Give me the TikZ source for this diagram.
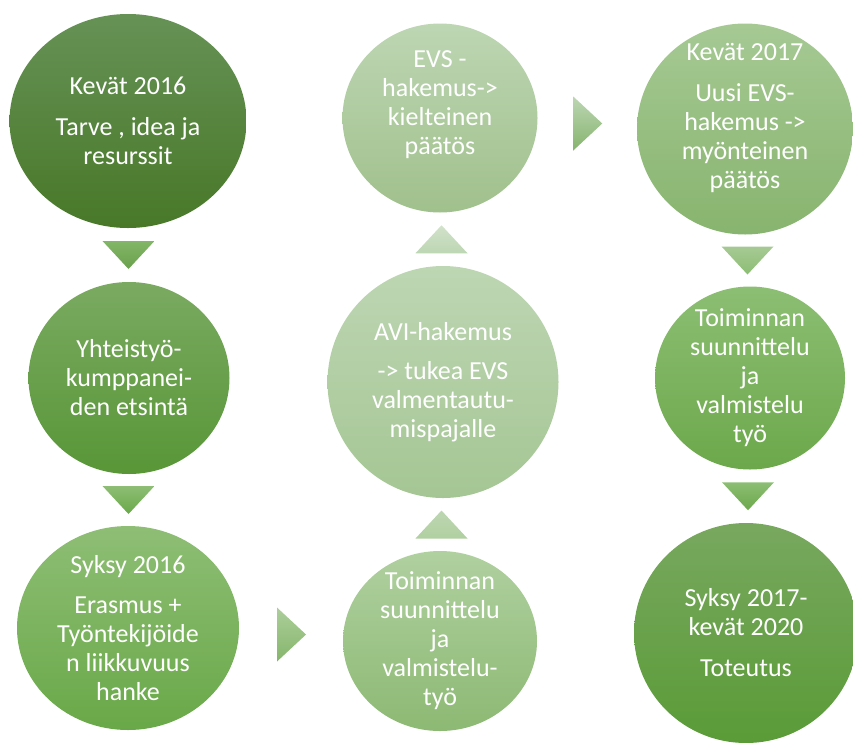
\documentclass[tikz,border=0pt]{standalone}
\usepackage{fontspec}
\setmainfont{Carlito}
\usetikzlibrary{shapes.geometric,calc}

\definecolor{gAtop}{RGB}{102,146,86}
\definecolor{gAbot}{RGB}{72,120,40}
\definecolor{gBtop}{RGB}{122,170,97}
\definecolor{gBbot}{RGB}{88,150,55}
\definecolor{gCtop}{RGB}{142,190,117}
\definecolor{gCbot}{RGB}{105,168,72}
\definecolor{gDtop}{RGB}{176,208,160}
\definecolor{gDbot}{RGB}{140,185,115}
\definecolor{gEtop}{RGB}{189,214,179}
\definecolor{gEbot}{RGB}{165,198,148}
\definecolor{gFtop}{RGB}{189,214,179}
\definecolor{gFbot}{RGB}{160,192,140}
\definecolor{gGtop}{RGB}{166,201,148}
\definecolor{gGbot}{RGB}{135,180,110}
\definecolor{gHtop}{RGB}{140,190,115}
\definecolor{gHbot}{RGB}{108,168,75}
\definecolor{gItop}{RGB}{120,168,95}
\definecolor{gIbot}{RGB}{90,155,55}

\tikzset{
  phase/.style={ellipse, draw=none, inner sep=0pt},
  phasetext/.style={align=center, text=white, inner sep=0pt, font=\fontsize{26}{29}\selectfont},
}

\begin{document}
\begin{tikzpicture}[x=1pt,y=-1pt]
  \useasboundingbox (0,0) rectangle (853,742);

  % left column
  \node[phase, minimum width=237pt, minimum height=214pt, top color=gAtop, bottom color=gAbot] (kevat16) at (128,121) {};
  \node[phasetext] (kevat16t) at (kevat16) {Kevät 2016\\[12pt]Tarve , idea ja\\resurssit};
  \node[phase, minimum width=201pt, minimum height=192pt, top color=gBtop, bottom color=gBbot] (kumpp) at (129,378) {};
  \node[phasetext] (kumppt) at (kumpp) {Yhteistyö-\\kumppanei-\\den etsintä};
  \node[phase, minimum width=222pt, minimum height=204pt, top color=gCtop, bottom color=gCbot] (syksy16) at (128,628) {};
  \node[phasetext] (syksy16t) at (syksy16) {Syksy 2016\\[11pt]Erasmus +\\Työntekijöide\\n liikkuvuus\\hanke};

  % middle column
  \node[phase, minimum width=194pt, minimum height=180pt, top color=gDtop, bottom color=gDbot] (valm1) at (440,641) {};
  \node[phasetext] (valm1t) at (valm1) {Toiminnan\\suunnittelu\\ja\\valmistelu-\\työ};
  \node[phase, minimum width=231pt, minimum height=232pt, top color=gEtop, bottom color=gEbot] (avi) at (443,382) {};
  \node[phasetext] (avit) at (avi) {AVI-hakemus\\[10pt]-> tukea EVS\\valmentautu-\\mispajalle};
  \node[phase, minimum width=195pt, minimum height=189pt, top color=gFtop, bottom color=gFbot] (evs1) at (440,118) {};
  \node[phasetext, yshift=13pt] (evs1t) at (evs1) {EVS -\\hakemus->\\kielteinen\\päätös};

  % right column
  \node[phase, minimum width=216pt, minimum height=211pt, top color=gGtop, bottom color=gGbot] (kevat17) at (745,129) {};
  \node[phasetext, yshift=11pt] (kevat17t) at (kevat17) {Kevät 2017\\[12pt]Uusi EVS-\\hakemus ->\\myönteinen\\päätös};
  \node[phase, minimum width=190pt, minimum height=183pt, top color=gHtop, bottom color=gHbot] (valm2) at (750,378) {};
  \node[phasetext] (valm2t) at (valm2) {Toiminnan\\suunnittelu\\ja\\valmistelu\\työ};
  \node[phase, minimum width=224pt, minimum height=220pt, top color=gItop, bottom color=gIbot] (toteutus) at (746,633) {};
  \node[phasetext] (toteutust) at (toteutus) {Syksy 2017-\\kevät 2020\\[12pt]Toteutus};

  % arrows between the phases
  \coordinate (a1) at ($(kevat16.south)!0.5!(kumpp.north)$);
  \coordinate (a2) at ($(kumpp.south)!0.5!(syksy16.north)$);
  \coordinate (a3) at ($(syksy16.east)!0.5!(valm1.west)$);
  \coordinate (a4) at ($(valm1.north)!0.5!(avi.south)$);
  \coordinate (a5) at ($(avi.north)!0.5!(evs1.south)$);
  \coordinate (a6) at ($(evs1.east)!0.5!(kevat17.west)$);
  \coordinate (a7) at ($(kevat17.south)!0.5!(valm2.north)$);
  \coordinate (a8) at ($(valm2.south)!0.5!(toteutus.north)$);

  \shade[top color=gCtop!80!gBbot, bottom color=gBbot!90!white] ($(a1)+(-26,-14)$) -- ($(a1)+(26,-14)$) -- ($(a1)+(0,14)$) -- cycle;
  \shade[top color=gCtop, bottom color=gCbot] ($(a2)+(-26,-14)$) -- ($(a2)+(26,-14)$) -- ($(a2)+(0,14)$) -- cycle;
  \shade[top color=gDtop!90!gCtop, bottom color=gDbot!80!gCbot] ($(a3)+(-14,-27)$) -- ($(a3)+(15,0)$) -- ($(a3)+(-14,27)$) -- cycle;
  \shade[top color=gEtop, bottom color=gDtop] ($(a4)+(-26,14)$) -- ($(a4)+(26,14)$) -- ($(a4)+(0,-14)$) -- cycle;
  \shade[top color=gEtop!70!white, bottom color=gEtop] ($(a5)+(-26,14)$) -- ($(a5)+(26,14)$) -- ($(a5)+(0,-14)$) -- cycle;
  \shade[top color=gEtop, bottom color=gGbot] ($(a6)+(-14,-27)$) -- ($(a6)+(15,0)$) -- ($(a6)+(-14,27)$) -- cycle;
  \shade[top color=gGtop, bottom color=gHtop] ($(a7)+(-26,-14)$) -- ($(a7)+(26,-14)$) -- ($(a7)+(0,14)$) -- cycle;
  \shade[top color=gHtop, bottom color=gHbot] ($(a8)+(-26,-14)$) -- ($(a8)+(26,-14)$) -- ($(a8)+(0,14)$) -- cycle;
\end{tikzpicture}
\end{document}
